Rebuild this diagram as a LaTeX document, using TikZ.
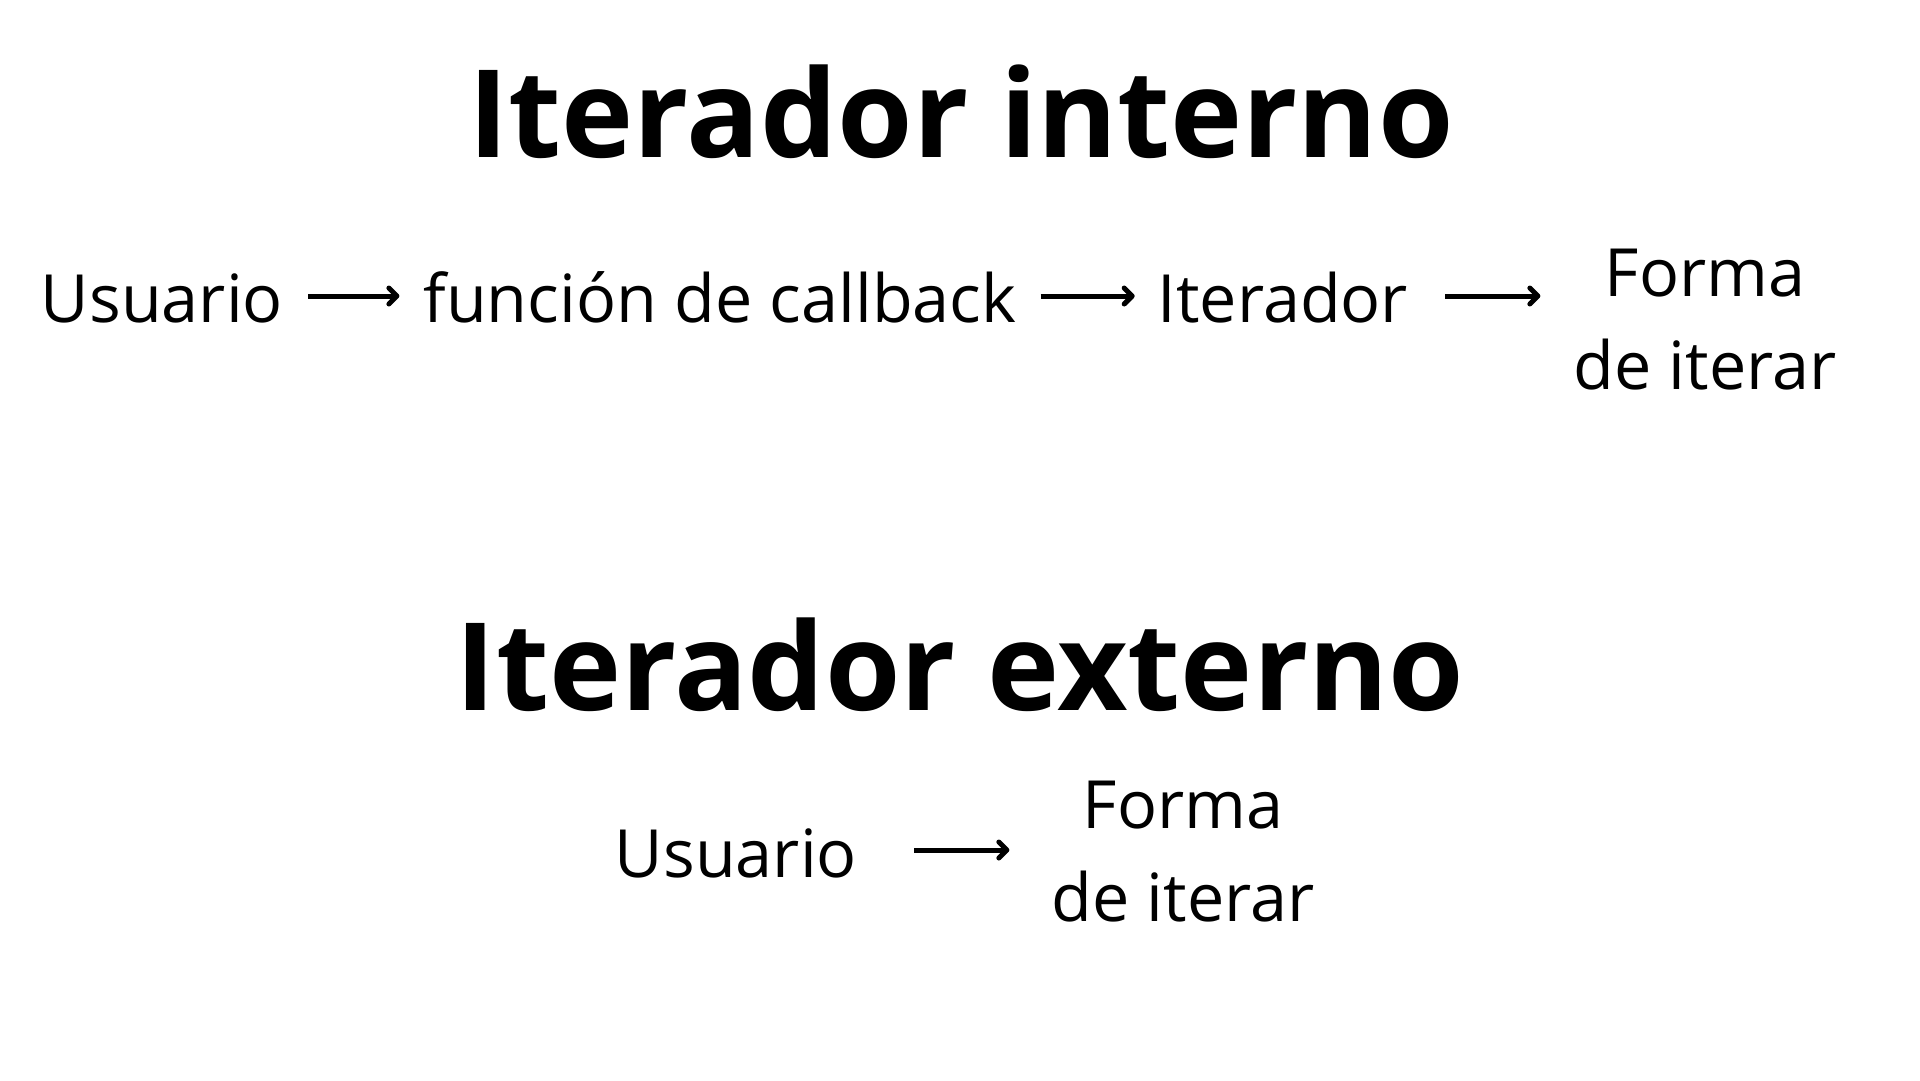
\documentclass[tikz,border=0pt]{standalone}
\usepackage{fontspec}
\setmainfont{Open Sans}
\usetikzlibrary{arrows.meta}
\tikzset{
  title/.style={anchor=base, inner sep=0pt, font=\fontsize{122}{130}\selectfont\bfseries},
  lbl/.style={anchor=base, inner sep=0pt, align=center, font=\fontsize{66.5}{93}\selectfont},
  arr/.style={line width=5pt, -{Straight Barb[length=8pt,width=16pt,round]}}
}
\begin{document}
\begin{tikzpicture}[x=1pt,y=-1pt]
\useasboundingbox (0,0) rectangle (1920,1080);
% titles
\node[title] (t1) at (961,157) {Iterador interno};
\node[title] (t2) at (960,710) {Iterador externo};
% row 1
\node[lbl] (u1) at (162,322) {Usuario};
\node[lbl] (f1) at (720,322) {función de callback};
\node[lbl] (i1) at (1283,322) {Iterador};
\node[lbl] (m1) at (1705,389) {Forma\\de iterar};
\coordinate (r1) at (0,296);
\draw[arr, shorten <=25pt, shorten >=24pt] (u1.east |- r1) -- (f1.west |- r1);
\draw[arr, shorten <=24pt, shorten >=23pt] (f1.east |- r1) -- (i1.west |- r1);
\draw[arr, shorten <=37pt, shorten >=33pt] (i1.east |- r1) -- (m1.west |- r1);
% row 2
\node[lbl] (u2) at (736,877) {Usuario};
\node[lbl] (m2) at (1183,921) {Forma\\de iterar};
\coordinate (r2) at (0,850);
\draw[arr, shorten <=57pt, shorten >=42pt] (u2.east |- r2) -- (m2.west |- r2);
\end{tikzpicture}
\end{document}
